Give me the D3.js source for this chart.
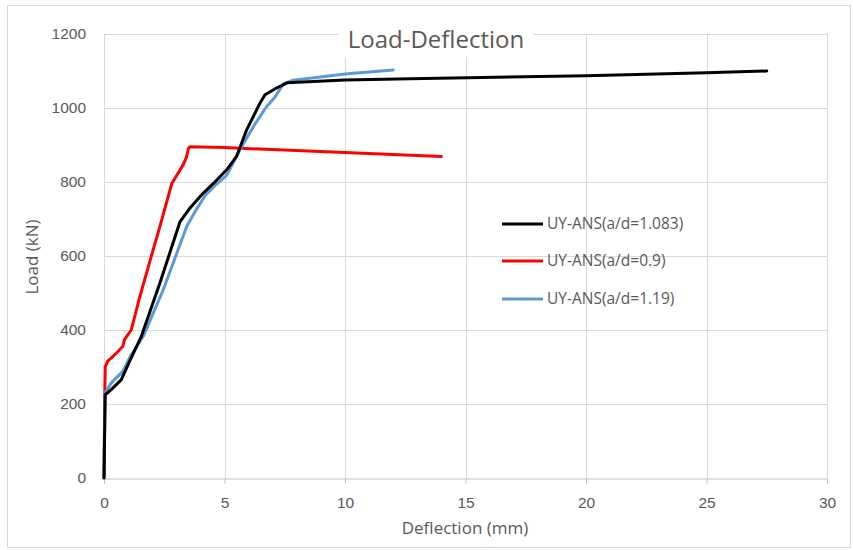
<!DOCTYPE html>
<html>
<head>
<meta charset="utf-8">
<script src="https://cdn.jsdelivr.net/npm/d3@7"></script>
<style>
  html, body { margin: 0; padding: 0; background: #fff; }
  svg { display: block; font-family: "Open Sans", "Noto Sans", sans-serif; }
</style>
</head>
<body>
<svg id="chart" width="853" height="550"></svg>
<script>
// Deflection (mm) / Load (kN)
const blackX = [0, 0.05, 0.3, 0.72, 1.06, 1.55, 2.32, 3.15, 3.57, 4.12, 4.6, 5.09, 5.5, 5.92, 6.47, 6.68, 7.16, 7.6, 10, 12.7, 20, 25, 27.5];
const blackY = [0, 225, 239, 266, 315, 383, 527, 692, 730, 770, 800, 833, 869, 941, 1013, 1036, 1054, 1068, 1076, 1079, 1087, 1095, 1100];

const redX = [0, 0.03, 0.05, 0.15, 0.3, 0.58, 0.78, 0.85, 1.13, 1.49, 1.98, 2.32, 2.81, 3.29, 3.43, 3.5, 3.56, 5, 14];
const redY = [0, 220, 300, 316, 324, 342, 356, 374, 400, 491, 603, 680, 795, 847, 869, 890, 895, 893, 869];

const blueX = [0, 0.04, 0.3, 0.78, 1.13, 1.63, 2.46, 3.0, 3.43, 3.8, 4.19, 4.6, 5.09, 5.64, 6.2, 6.75, 7.1, 7.44, 7.85, 10, 12.0];
const blueY = [0, 230, 257, 288, 333, 383, 509, 604, 680, 722, 763, 790, 818, 887, 950, 1004, 1030, 1065, 1075, 1092, 1103];

const seriesNames = ['UY-ANS(a/d=1.083)', 'UY-ANS(a/d=0.9)', 'UY-ANS(a/d=1.19)'];
const seriesColors = ['#000000', '#ff0000', '#5b9bd5'];
const xTicks = [0, 5, 10, 15, 20, 25, 30];
const yTicks = [0, 200, 400, 600, 800, 1000, 1200];

const svg = d3.select('#chart');
const textColor = '#595959';

// outer chart frame
svg.append('rect')
    .attr('x', 7.5).attr('y', 5.5).attr('width', 843).attr('height', 542)
    .attr('fill', '#fff').attr('stroke', '#d9d9d9');

const x = d3.scaleLinear().domain([0, 30]).range([104, 827]);
const y = d3.scaleLinear().domain([0, 1200]).range([478, 34]);

// gridlines
svg.append('g').selectAll('line').data(yTicks.slice(1)).join('line')
    .attr('x1', x(0)).attr('x2', x(30))
    .attr('y1', d => Math.round(y(d)) + 0.5).attr('y2', d => Math.round(y(d)) + 0.5)
    .attr('stroke', '#d9d9d9');
svg.append('g').selectAll('line').data(xTicks).join('line')
    .attr('y1', y(0)).attr('y2', y(1200))
    .attr('x1', d => Math.round(x(d)) + 0.5).attr('x2', d => Math.round(x(d)) + 0.5)
    .attr('stroke', '#d9d9d9');

// x axis with ticks below
const xAxis = svg.append('g')
    .attr('transform', `translate(0,${Math.round(y(0)) + 0.5})`)
    .call(d3.axisBottom(x).tickValues(xTicks).tickSize(5).tickPadding(13));
xAxis.select('.domain').attr('stroke', '#bfbfbf');
xAxis.selectAll('.tick line').attr('stroke', '#bfbfbf');
xAxis.selectAll('text').attr('fill', textColor).style('font-size', '15.5px').attr('dy', '0.71em');

// y axis labels only
const yAxis = svg.append('g')
    .attr('transform', `translate(${x(0)},0)`)
    .call(d3.axisLeft(y).tickValues(yTicks).tickFormat(d3.format('d')).tickSize(0).tickPadding(18));
yAxis.select('.domain').remove();
yAxis.selectAll('text').attr('fill', textColor).style('font-size', '15.5px');

// title with white box behind it
svg.append('rect')
    .attr('x', 338).attr('y', 20).attr('width', 196).attr('height', 37)
    .attr('fill', '#fff');
svg.append('text')
    .attr('x', 436).attr('y', 48).attr('text-anchor', 'middle')
    .attr('fill', textColor).style('font-size', '24px')
    .text('Load-Deflection');

// axis titles
svg.append('text')
    .attr('x', 465).attr('y', 534).attr('text-anchor', 'middle')
    .attr('fill', textColor).style('font-size', '17px')
    .text('Deflection (mm)');
svg.append('text')
    .attr('transform', 'translate(38,257) rotate(-90)')
    .attr('text-anchor', 'middle')
    .attr('fill', textColor).style('font-size', '17px')
    .text('Load (kN)');

// series lines
const series = [
    { xs: blackX, ys: blackY },
    { xs: redX, ys: redY },
    { xs: blueX, ys: blueY }
];
const line = d3.line().x(d => x(d[0])).y(d => y(d[1]));
const order = [1, 2, 0]; // draw black on top like the reference
order.forEach(i => {
    const pts = series[i].xs.map((v, k) => [v, series[i].ys[k]]);
    svg.append('path')
        .datum(pts)
        .attr('d', line)
        .attr('fill', 'none')
        .attr('stroke', seriesColors[i])
        .attr('stroke-width', 3)
        .attr('stroke-linejoin', 'round')
        .attr('stroke-linecap', 'round');
});

// legend
const legend = svg.append('g');
const legendY = [224, 261, 299];
seriesNames.forEach((name, i) => {
    legend.append('line')
        .attr('x1', 502).attr('x2', 543)
        .attr('y1', legendY[i]).attr('y2', legendY[i])
        .attr('stroke', seriesColors[i]).attr('stroke-width', 3);
    legend.append('text')
        .attr('x', 547).attr('y', legendY[i]).attr('dy', '0.35em')
        .attr('fill', textColor).style('font-size', '15.5px')
        .text(name);
});
</script>
</body>
</html>
